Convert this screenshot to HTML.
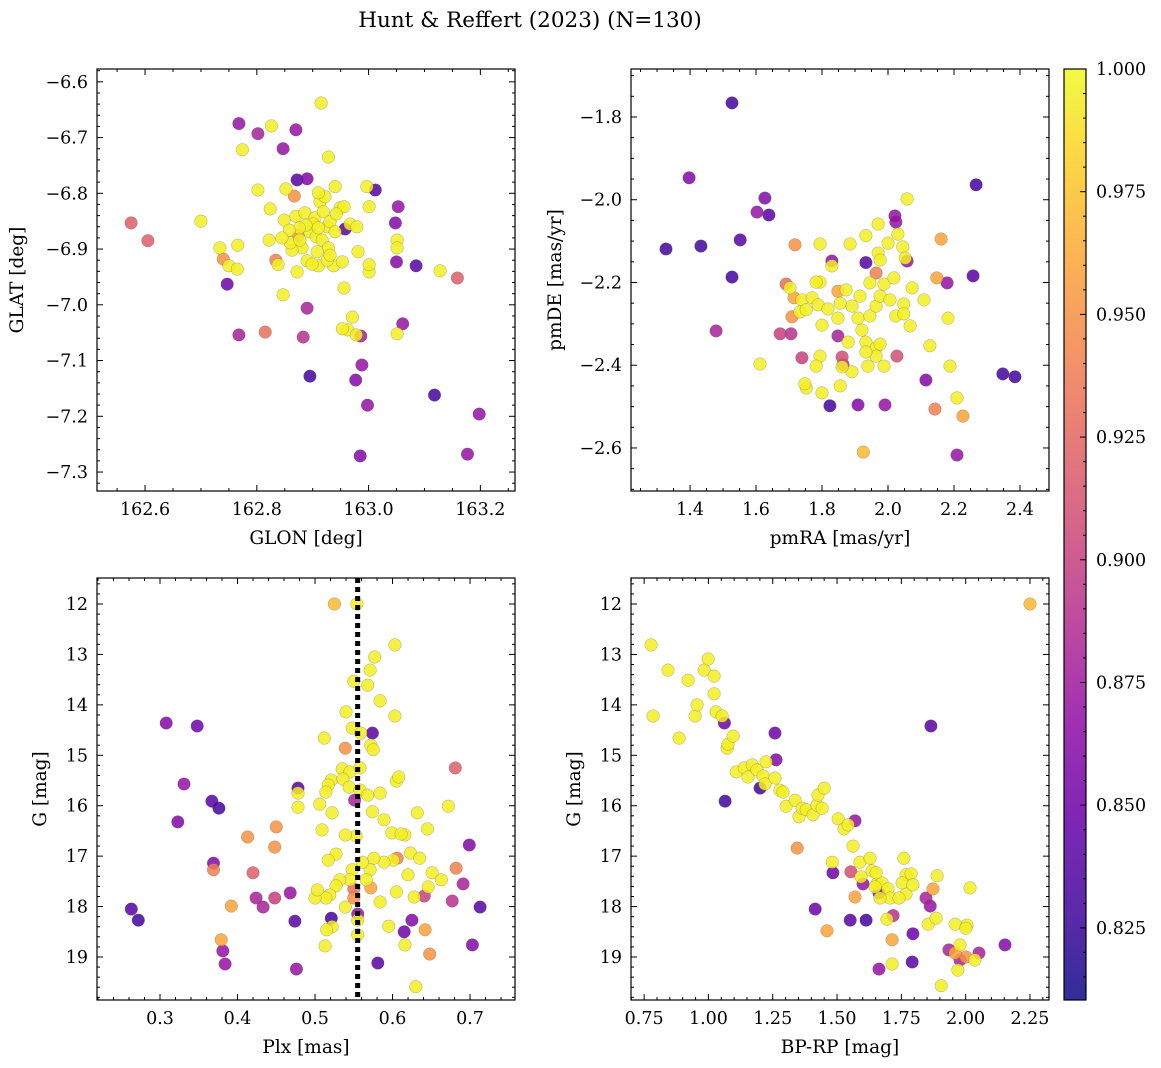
<!DOCTYPE html>
<html><head><meta charset="utf-8"><style>
html,body{margin:0;padding:0;background:#fff;}
svg{display:block;font-family:"DejaVu Serif","Liberation Serif",serif;}
</style></head><body>
<svg id="fig" width="1161" height="1068" viewBox="0 0 1161 1068" xmlns="http://www.w3.org/2000/svg">
<defs>
<linearGradient id="plasma" x1="0" y1="1" x2="0" y2="0">
<stop offset="0" stop-color="#0d0887"/><stop offset="0.1" stop-color="#41049d"/><stop offset="0.2" stop-color="#6a00a8"/><stop offset="0.3" stop-color="#8f0da4"/><stop offset="0.4" stop-color="#b12a90"/><stop offset="0.5" stop-color="#cc4778"/><stop offset="0.6" stop-color="#e16462"/><stop offset="0.7" stop-color="#f2844b"/><stop offset="0.8" stop-color="#fca636"/><stop offset="0.9" stop-color="#fcce25"/><stop offset="1" stop-color="#f0f921"/>
</linearGradient>
</defs>
<text x="530" y="27" font-size="21.5" text-anchor="middle">Hunt &amp; Reffert (2023) (N=130)</text>
</svg>
<script>
const Y=0.995;
// Panel 1: GLON, GLAT, prob
const p1x=[162.575,162.605,162.768,162.802,162.870,162.847,162.890,162.872,163.012,162.747,162.740,162.768,162.815,162.883,162.890,162.895,162.958,162.986,162.977,162.988,162.998,162.985,163.048,163.053,163.050,163.061,163.085,163.118,163.159,163.198,163.177,162.874,162.867,162.834,162.915,162.700,162.774,162.826,162.928,162.802,162.940,162.997,162.824,162.852,162.822,162.766,162.734,162.750,162.765,162.847,162.838,162.872,162.910,162.937,162.953,162.956,162.971,162.963,162.953,162.978,163.001,163.001,163.001,163.051,163.051,163.051,163.128,162.849,162.870,162.886,162.904,162.913,162.919,162.926,162.931,162.940,162.949,162.956,162.967,162.979,162.895,162.906,162.917,162.928,162.881,162.863,162.890,162.899,162.908,162.926,162.931,162.942,162.901,162.888,162.876,162.858,162.910,162.860,162.922,162.910,162.981,162.845,162.877];
const p1y=[-6.853,-6.885,-6.675,-6.693,-6.686,-6.720,-6.774,-6.776,-6.794,-6.963,-6.918,-7.054,-7.049,-7.058,-7.006,-7.128,-6.864,-7.056,-7.135,-7.108,-7.180,-7.271,-6.853,-6.824,-6.923,-7.034,-6.930,-7.162,-6.952,-7.196,-7.268,-6.876,-6.805,-6.920,-6.638,-6.850,-6.722,-6.679,-6.735,-6.794,-6.788,-6.788,-6.828,-6.792,-6.884,-6.893,-6.898,-6.930,-6.936,-6.982,-6.928,-6.941,-6.930,-6.930,-6.923,-6.970,-7.022,-7.045,-7.043,-7.054,-6.941,-6.928,-6.824,-6.884,-6.898,-7.052,-6.939,-6.848,-6.841,-6.835,-6.844,-6.815,-6.833,-6.860,-6.851,-6.869,-6.826,-6.824,-6.855,-6.860,-6.869,-6.878,-6.884,-6.898,-6.898,-6.902,-6.921,-6.927,-6.905,-6.920,-6.911,-6.837,-6.855,-6.857,-6.862,-6.866,-6.862,-6.889,-6.806,-6.799,-6.905,-6.880,-6.884];
const p1c=[0.92,0.92,0.87,0.88,0.87,0.87,0.86,0.84,0.84,0.85,0.95,0.88,0.93,0.89,0.88,0.83,0.84,0.88,0.86,0.87,0.87,0.86,0.86,0.87,0.86,0.87,0.84,0.83,0.92,0.87,0.87,0.95,0.95,0.94];
// Panel 2: pmRA, pmDE
const p2x=[1.527,1.397,1.327,1.433,1.552,1.627,1.639,1.603,1.527,1.479,2.267,2.258,2.179,2.209,2.348,2.385,1.824,1.909,1.991,2.115,1.718,1.691,1.673,1.706,1.739,1.830,1.864,1.861,1.848,1.933,2.021,2.024,2.058,1.964,2.027,2.161,2.148,2.142,1.709,1.715,1.848,1.925,2.227,2.058,1.933,1.970,2.000,2.030,2.045,2.052,1.970,1.885,1.794,1.830,1.794,1.703,1.739,1.733,1.770,1.782,1.788,1.800,1.818,1.855,1.873,1.891,1.915,1.909,1.921,1.933,1.945,1.964,1.976,1.988,2.006,2.024,2.048,2.048,1.964,1.976,1.964,1.988,1.933,1.879,1.891,1.861,1.794,1.782,1.752,1.748,1.800,1.612,1.752,2.067,2.109,2.182,2.127,2.188,2.209,1.976,2.018,2.073,1.945,1.848,1.939,1.855];
const p2y=[-1.766,-1.947,-2.119,-2.112,-2.097,-1.996,-2.037,-2.030,-2.187,-2.317,-1.964,-2.184,-2.201,-2.617,-2.421,-2.428,-2.498,-2.496,-2.496,-2.436,-2.109,-2.204,-2.324,-2.324,-2.382,-2.148,-2.399,-2.380,-2.329,-2.152,-2.039,-2.054,-2.148,-2.177,-2.378,-2.095,-2.189,-2.506,-2.283,-2.237,-2.221,-2.610,-2.523,-1.998,-2.087,-2.129,-2.105,-2.083,-2.114,-2.141,-2.059,-2.107,-2.107,-2.160,-2.199,-2.213,-2.242,-2.271,-2.237,-2.199,-2.254,-2.303,-2.264,-2.250,-2.218,-2.257,-2.233,-2.286,-2.315,-2.344,-2.281,-2.257,-2.233,-2.204,-2.242,-2.281,-2.252,-2.276,-2.358,-2.349,-2.378,-2.402,-2.368,-2.344,-2.416,-2.404,-2.378,-2.402,-2.455,-2.445,-2.467,-2.397,-2.266,-2.305,-2.242,-2.286,-2.353,-2.402,-2.479,-2.146,-2.189,-2.213,-2.201,-2.286,-2.402,-2.450];
const p2c=[0.83,0.86,0.83,0.83,0.84,0.86,0.84,0.87,0.83,0.88,0.83,0.84,0.87,0.87,0.83,0.83,0.83,0.86,0.87,0.86,0.95,0.93,0.90,0.89,0.90,0.87,0.89,0.91,0.88,0.84,0.87,0.87,0.87,0.94,0.91,0.96,0.96,0.94,0.95,0.96,0.96,0.97,0.96];
// Panel 3: Plx, G
const p3x=[0.263,0.272,0.308,0.348,0.323,0.331,0.367,0.376,0.369,0.369,0.413,0.450,0.448,0.420,0.424,0.433,0.448,0.468,0.392,0.379,0.381,0.384,0.478,0.474,0.476,0.521,0.550,0.550,0.551,0.539,0.555,0.574,0.581,0.615,0.625,0.606,0.572,0.641,0.642,0.648,0.691,0.682,0.677,0.681,0.699,0.703,0.713,0.525,0.554,0.603,0.577,0.571,0.568,0.550,0.584,0.603,0.540,0.548,0.559,0.572,0.575,0.512,0.535,0.545,0.558,0.521,0.517,0.514,0.478,0.478,0.506,0.522,0.536,0.544,0.558,0.568,0.574,0.584,0.589,0.605,0.608,0.599,0.616,0.632,0.623,0.635,0.645,0.672,0.651,0.646,0.663,0.620,0.601,0.589,0.576,0.571,0.553,0.539,0.527,0.517,0.509,0.548,0.545,0.532,0.527,0.519,0.539,0.514,0.555,0.555,0.522,0.515,0.513,0.605,0.584,0.595,0.616,0.630,0.500,0.503,0.611,0.561,0.566,0.628];
const p3y=[18.05,18.27,14.36,14.42,16.32,15.57,15.91,16.05,17.14,17.27,16.62,16.42,16.82,17.33,17.83,18.01,17.83,17.73,17.99,18.66,18.88,19.14,15.65,18.29,19.24,18.23,17.83,17.65,15.89,14.86,18.15,14.56,19.12,18.50,18.27,17.04,17.63,17.79,18.46,18.94,17.55,17.24,17.89,15.25,16.78,18.76,18.01,12.00,12.00,12.81,13.05,13.31,13.61,13.53,13.92,14.22,14.14,14.46,14.56,14.80,14.89,14.66,15.27,15.33,15.25,15.49,15.59,15.73,15.75,16.03,15.97,16.14,15.47,15.63,15.69,15.79,16.12,15.75,16.28,15.51,15.43,16.54,16.58,16.14,16.94,17.04,16.46,16.01,17.33,17.61,17.47,17.37,17.08,17.12,17.04,17.27,16.60,16.58,16.96,17.08,16.48,17.27,17.47,17.47,17.59,17.77,18.01,17.83,18.27,18.56,18.40,18.46,18.78,17.71,17.91,18.39,18.76,19.59,17.83,17.67,16.56,17.12,17.47,17.81];
const p3c=[0.84,0.83,0.86,0.85,0.86,0.87,0.84,0.83,0.86,0.94,0.95,0.95,0.95,0.92,0.88,0.88,0.90,0.87,0.96,0.96,0.87,0.87,0.84,0.84,0.87,0.83,0.95,0.93,0.88,0.95,0.87,0.84,0.84,0.85,0.86,0.94,0.96,0.90,0.96,0.95,0.88,0.94,0.89,0.92,0.86,0.86,0.84,0.97];
// Panel 4: BP-RP, G
const p4x=[2.250,1.062,1.865,1.259,1.263,1.065,1.201,1.345,1.570,1.484,1.415,1.554,1.601,1.663,1.551,1.613,1.570,1.461,1.663,1.718,1.795,1.792,1.714,1.846,1.862,1.873,1.959,1.935,2.052,2.153,2.001,1.978,0.777,0.785,0.843,0.886,0.921,0.948,0.956,0.983,0.999,1.022,1.022,1.030,1.053,1.073,1.076,1.096,1.108,1.139,1.154,1.170,1.189,1.212,1.220,1.224,1.259,1.278,1.290,1.302,1.337,1.352,1.364,1.380,1.407,1.422,1.426,1.442,1.450,1.481,1.504,1.527,1.543,1.562,1.589,1.593,1.628,1.636,1.655,1.675,1.652,1.698,1.706,1.760,1.768,1.768,1.694,1.741,1.667,1.648,1.753,1.788,1.795,1.854,1.885,1.889,1.959,1.970,2.005,1.905,2.001,2.017,1.714,1.978,2.036];
const p4y=[12.00,14.36,14.42,14.56,15.09,15.91,15.65,16.84,16.30,17.33,18.05,17.31,17.55,17.73,18.27,18.27,17.81,18.48,19.24,18.18,18.54,19.10,18.66,17.83,17.99,17.65,18.92,18.86,18.92,18.76,19.00,19.06,12.81,14.22,13.31,14.66,13.51,14.22,14.00,13.31,13.09,13.43,13.78,14.14,14.22,14.86,14.78,14.62,15.33,15.25,15.43,15.19,15.29,15.41,15.57,15.13,15.45,15.69,15.73,16.01,15.89,16.22,16.05,16.08,16.18,15.99,15.79,16.05,15.65,17.12,16.26,16.46,16.38,16.80,17.12,17.41,17.04,17.29,17.55,17.53,17.33,17.65,17.83,17.04,17.37,17.75,18.25,17.83,17.83,17.61,17.53,17.35,17.57,18.35,18.23,17.39,18.35,19.26,18.37,19.57,18.43,17.63,19.14,18.76,19.06];
const p4c=[0.97,0.85,0.84,0.85,0.86,0.83,0.83,0.95,0.87,0.85,0.85,0.91,0.87,0.86,0.84,0.83,0.96,0.96,0.87,0.89,0.85,0.84,0.96,0.88,0.87,0.96,0.96,0.88,0.88,0.86,0.95,0.88];
const cbTicks=[0.825,0.850,0.875,0.900,0.925,0.950,0.975,1.000];

const NS="http://www.w3.org/2000/svg";
const svg=document.getElementById('fig');
function mk(tag,attrs,parent){const e=document.createElementNS(NS,tag);for(const k in attrs)e.setAttribute(k,attrs[k]);(parent||svg).appendChild(e);return e;}
const stops=[[13,8,135],[65,4,157],[106,0,168],[143,13,164],[177,42,144],[204,71,120],[225,100,98],[242,132,75],[252,166,54],[252,206,37],[240,249,33]];
const VMIN=0.8103,VMAX=1.0;
function cmap(v){let t=(v-VMIN)/(VMAX-VMIN);t=Math.max(0,Math.min(1,t))*10;const i=Math.min(9,Math.floor(t)),f=t-i;const a=stops[i],b=stops[i+1];return 'rgb('+a.map((x,k)=>Math.round(x+(b[k]-x)*f)).join(',')+')';}
function fmt(v,d){return (v<0?'\u2212':'')+Math.abs(v).toFixed(d);}
const TF=17.5;
const panels=[
 {name:'glon-glat',L:97,T:69,R:515,B:491,x0:162.514,x1:163.262,y0:-7.334,y1:-6.577,inv:false,xs:[162.6,162.8,163.0,163.2],xm:0.05,xd:1,ys:[-7.3,-7.2,-7.1,-7.0,-6.9,-6.8,-6.7,-6.6],ym:0.02,yd:1,xl:'GLON [deg]',yl:'GLAT [deg]',X:p1x,Yv:p1y,C:p1c,yo:80},
 {name:'pmra-pmde',L:631,T:69,R:1049,B:491,x0:1.221,x1:2.488,y0:-2.704,y1:-1.684,inv:false,xs:[1.4,1.6,1.8,2.0,2.2,2.4],xm:0.05,xd:1,ys:[-2.6,-2.4,-2.2,-2.0,-1.8],ym:0.05,yd:1,xl:'pmRA [mas/yr]',yl:'pmDE [mas/yr]',X:p2x,Yv:p2y,C:p2c,yo:76},
 {name:'plx-g',L:97,T:578,R:515,B:1000,x0:0.2187,x1:0.758,y0:11.484,y1:19.853,inv:true,xs:[0.3,0.4,0.5,0.6,0.7],xm:0.02,xd:1,ys:[12,13,14,15,16,17,18,19],ym:0.2,yd:0,xl:'Plx [mas]',yl:'G [mag]',X:p3x,Yv:p3y,C:p3c,vline:0.555,yo:57},
 {name:'color-magnitude',L:631,T:578,R:1049,B:1000,x0:0.699,x1:2.324,y0:11.484,y1:19.853,inv:true,xs:[0.75,1.0,1.25,1.5,1.75,2.0,2.25],xm:0.05,xd:2,ys:[12,13,14,15,16,17,18,19],ym:0.2,yd:0,xl:'BP-RP [mag]',yl:'G [mag]',X:p4x,Yv:p4y,C:p4c,yo:57}
];
panels.forEach(p=>{
 const g=mk('g',{});
 
 
 const sx=v=>p.L+(v-p.x0)/(p.x1-p.x0)*(p.R-p.L);
 const sy=v=>p.inv?p.T+(v-p.y0)/(p.y1-p.y0)*(p.B-p.T):p.B-(v-p.y0)/(p.y1-p.y0)*(p.B-p.T);
 const clip=mk('clipPath',{id:'c'+p.name},g);mk('rect',{x:p.L,y:p.T,width:p.R-p.L,height:p.B-p.T},clip);
 const pts=mk('g',{'clip-path':'url(#c'+p.name+')'},g);
 
 
 const idx=p.X.map((_,i)=>i).sort((a,b)=>(p.C[a]??Y)-(p.C[b]??Y));
 idx.forEach(i=>{const c=p.C[i]??Y;const e=mk('circle',{cx:sx(p.X[i]).toFixed(1),cy:sy(p.Yv[i]).toFixed(1),r:6.3,fill:cmap(c),'fill-opacity':0.85,stroke:'#555','stroke-width':0.4,'stroke-opacity':0.6},pts);
  
  });
 if(p.vline!==undefined){const l=mk('line',{x1:sx(p.vline),x2:sx(p.vline),y1:p.T,y2:p.B,stroke:'#000','stroke-width':5,'stroke-dasharray':'5,4'},g);
  
  }
 const fr=mk('rect',{x:p.L,y:p.T,width:p.R-p.L,height:p.B-p.T,fill:'none',stroke:'#000','stroke-width':1.2},g);
 
 
 for(let v=Math.ceil(p.x0/p.xm-1e-6)*p.xm;v<=p.x1+1e-9;v+=p.xm){const x=sx(v);const maj=p.xs.some(t=>Math.abs(t-v)<p.xm/10);const len=maj?6:3;
  mk('line',{x1:x,x2:x,y1:p.B,y2:p.B-len,stroke:'#000','stroke-width':1},g);mk('line',{x1:x,x2:x,y1:p.T,y2:p.T+len,stroke:'#000','stroke-width':1},g);}
 p.xs.forEach(v=>{const t=mk('text',{x:sx(v),y:p.B+24,'font-size':TF,'text-anchor':'middle'},g);t.textContent=fmt(v,p.xd);
  
  });
 for(let v=Math.ceil(p.y0/p.ym-1e-6)*p.ym;v<=p.y1+1e-9;v+=p.ym){const y=sy(v);const maj=p.ys.some(t=>Math.abs(t-v)<p.ym/10);const len=maj?6:3;
  mk('line',{x1:p.L,x2:p.L+len,y1:y,y2:y,stroke:'#000','stroke-width':1},g);mk('line',{x1:p.R,x2:p.R-len,y1:y,y2:y,stroke:'#000','stroke-width':1},g);}
 p.ys.forEach(v=>{const t=mk('text',{x:p.L-9,y:sy(v)+6,'font-size':TF,'text-anchor':'end'},g);t.textContent=fmt(v,p.yd);
  
  });
 const xt=mk('text',{x:(p.L+p.R)/2,y:p.B+53,'font-size':18.5,'text-anchor':'middle'},g);xt.textContent=p.xl;
 
 
 const yx=p.L-p.yo,ym=(p.T+p.B)/2;
 const yt=mk('text',{x:yx,y:ym+6,'font-size':18.5,'text-anchor':'middle',transform:'rotate(-90 '+yx+' '+ym+')'},g);yt.textContent=p.yl;
 
 
});
const cb=mk('g',{});


const CL=1064,CR=1086,CT=69,CB=1000;
const cy=v=>CB-(v-VMIN)/(VMAX-VMIN)*(CB-CT);
mk('rect',{x:CL,y:CT,width:CR-CL,height:CB-CT,fill:'url(#plasma)','fill-opacity':0.85},cb);
mk('rect',{x:CL,y:CT,width:CR-CL,height:CB-CT,fill:'none',stroke:'#000','stroke-width':1.2},cb);
for(let v=0.815;v<=1.0001;v+=0.005){const y=cy(v);const maj=cbTicks.some(t=>Math.abs(t-v)<0.001);mk('line',{x1:CR,x2:CR-(maj?6:3),y1:y,y2:y,stroke:'#000','stroke-width':1},cb);}
cbTicks.forEach(v=>{const t=mk('text',{x:CR+10,y:cy(v)+6,'font-size':TF},cb);t.textContent=v.toFixed(3);
 
 });
</script>
</body></html>
